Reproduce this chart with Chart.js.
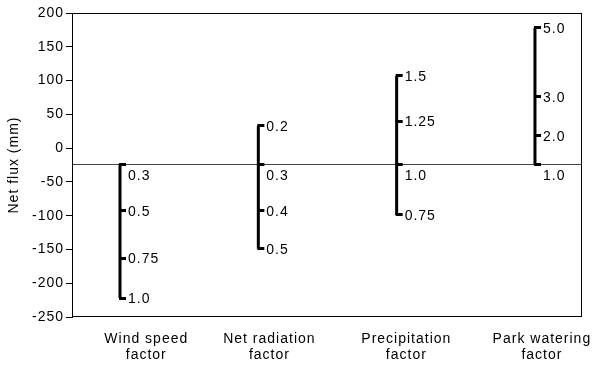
<!DOCTYPE html>
<html>
<head>
<meta charset="utf-8">
<script src="https://cdn.jsdelivr.net/npm/chart.js@4"></script>
<style>
  html, body { margin: 0; padding: 0; background: #fff; }
  #wrap { width: 592px; height: 369px; }
</style>
</head>
<body>
<div id="wrap"><canvas id="fluxChart"></canvas></div>
<script>
// categories (bars sit at x = 1..4)
const categories = [['Wind speed', 'factor'], ['Net radiation', 'factor'], ['Precipitation', 'factor'], ['Park watering', 'factor']];
const categoryTickAt = [1.19, 2.08, 3.07, 4.05];
const baselineFlux = -24;

// net flux (mm) at each factor setting
const windFlux = [-24, -93, -163, -222];
const radiationFlux = [33, -24, -93, -149];
const precipFlux = [107, 40, -24, -99];
const wateringFlux = [178, 76, 18, -24];

// factor labels written beside each mark
const windLabels = ['0.3', '0.5', '0.75', '1.0'];
const radiationLabels = ['0.2', '0.3', '0.4', '0.5'];
const precipLabels = ['1.5', '1.25', '1.0', '0.75'];
const wateringLabels = ['5.0', '3.0', '2.0', '1.0'];

const yTicks = [-250, -200, -150, -100, -50, 0, 50, 100, 150, 200];

const seriesFlux = [windFlux, radiationFlux, precipFlux, wateringFlux];
const seriesLabels = [windLabels, radiationLabels, precipLabels, wateringLabels];

const FONT = '"Liberation Sans", Arial, sans-serif';

// little tick stub sticking out right of the bar
function makeStub() {
    const c = document.createElement('canvas');
    c.width = 16; c.height = 3;
    const g = c.getContext('2d');
    g.fillStyle = '#000';
    g.fillRect(7, 0, 7, 3);
    return c;
}
const stub = makeStub();

const datasets = seriesFlux.map((vals, i) => ({
    data: vals.map(v => ({ x: i + 1, y: v })),
    showLine: true,
    borderColor: '#000',
    borderWidth: 3,
    pointStyle: stub,
    pointRadius: 5,
    factorLabels: seriesLabels[i]
}));

// the original text is a bit wider than Liberation Sans
const spacingPlugin = {
    id: 'spacing',
    beforeLayout(chart) { chart.ctx.letterSpacing = '1px'; },
    beforeDraw(chart) { chart.ctx.letterSpacing = '1px'; }
};

const framePlugin = {
    id: 'frame',
    beforeDatasetsDraw(chart) {
        const { ctx, chartArea: a, scales } = chart;
        const y = Math.round(scales.y.getPixelForValue(baselineFlux)) + 0.5;
        ctx.save();
        ctx.strokeStyle = '#444';
        ctx.lineWidth = 1;
        ctx.beginPath();
        ctx.moveTo(a.left, y);
        ctx.lineTo(a.right, y);
        ctx.stroke();
        ctx.strokeStyle = '#000';
        ctx.strokeRect(a.left + 0.5, a.top + 0.5, a.right - a.left - 1, a.bottom - a.top - 1);
        ctx.restore();
    },
    afterDatasetsDraw(chart) {
        const { ctx, scales } = chart;
        ctx.save();
        ctx.fillStyle = '#000';
        ctx.font = '14px ' + FONT;
        ctx.textBaseline = 'middle';
        chart.data.datasets.forEach(ds => {
            ds.data.forEach((p, j) => {
                const px = scales.x.getPixelForValue(p.x);
                let py = scales.y.getPixelForValue(p.y);
                if (p.y === baselineFlux) py += 11;
                ctx.fillText(ds.factorLabels[j], px + 8, py + 1);
            });
        });
        ctx.restore();
    }
};

const ctx = document.getElementById('fluxChart').getContext('2d');
const fluxChart = new Chart(ctx, {
    type: 'scatter',
    data: { datasets: datasets },
    options: {
        responsive: true,
        maintainAspectRatio: false,
        animation: false,
        layout: { padding: { top: 13, right: 10, left: 6, bottom: 0 } },
        plugins: { legend: { display: false }, tooltip: { enabled: false } },
        scales: {
            x: {
                type: 'linear',
                min: 0.653,
                max: 4.34,
                afterBuildTicks: axis => { axis.ticks = categoryTickAt.map(v => ({ value: v })); },
                afterFit: axis => { axis.height = 52; axis.paddingRight = 0; axis.paddingLeft = 0; },
                grid: { display: false, drawTicks: false },
                border: { display: false },
                ticks: {
                    callback: (v, i) => categories[i],
                    color: '#000',
                    font: { family: FONT, size: 14, lineHeight: 1.15 },
                    padding: 14,
                    maxRotation: 0
                }
            },
            y: {
                min: -250,
                max: 200,
                afterBuildTicks: axis => { axis.ticks = yTicks.map(v => ({ value: v })); },
                afterFit: axis => { axis.width = 66; axis.paddingTop = 0; axis.paddingBottom = 0; },
                grid: { drawOnChartArea: false, color: '#000', tickLength: 6 },
                border: { color: '#000' },
                ticks: {
                    color: '#000',
                    font: { family: FONT, size: 14 },
                    padding: 2
                },
                title: {
                    display: true,
                    text: 'Net flux (mm)',
                    color: '#000',
                    font: { family: FONT, size: 14 },
                    padding: { top: 0, bottom: 0 }
                }
            }
        }
    },
    plugins: [spacingPlugin, framePlugin]
});
</script>
</body>
</html>
